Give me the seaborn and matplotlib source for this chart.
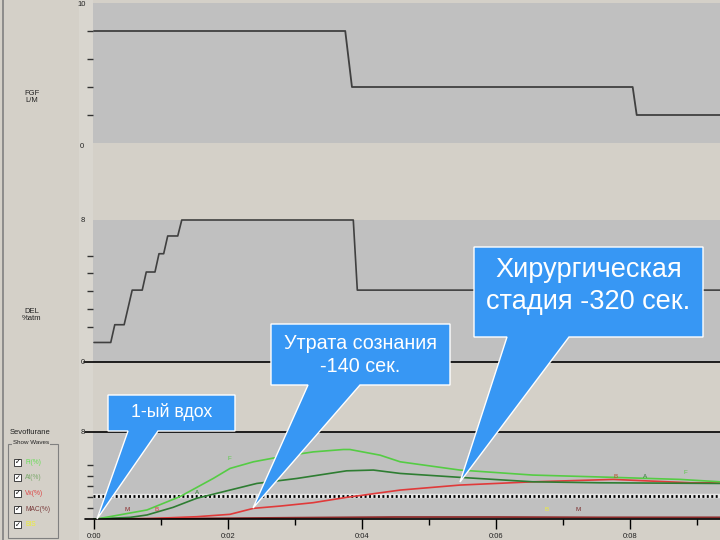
import matplotlib
matplotlib.use("Agg")
import matplotlib.pyplot as plt
import seaborn as sns
from matplotlib.patches import Polygon, Rectangle
from matplotlib.transforms import Affine2D
from matplotlib.lines import Line2D

sns.set_style("white")
plt.rcParams['font.family'] = ['Liberation Sans', 'DejaVu Sans']

# ---------------- data (time in minutes) ----------------
fgf_t = [0.0, 3.75, 3.85, 8.04, 8.10, 9.35]
fgf_v = [8, 8, 4, 4, 2, 2]

del_t = [0.0, 0.25, 0.31, 0.45, 0.57, 0.72, 0.78, 0.91, 0.97, 1.04, 1.10, 1.25, 1.31, 3.87, 3.93, 9.35]
del_v = [1.1, 1.1, 2.1, 2.1, 4.05, 4.05, 5.07, 5.07, 6.1, 6.1, 7.1, 7.1, 8.0, 8.0, 4.05, 4.05]

fi_t = [0.0, 0.04, 0.79, 1.28, 1.78, 2.03, 2.38, 2.78, 3.27, 3.72, 3.82, 4.27, 4.57, 5.46, 6.55, 7.75, 8.75, 9.35]
fi_v = [0.0, 0.0, 0.83, 2.05, 3.73, 4.65, 5.26, 5.72, 6.17, 6.39, 6.39, 5.87, 5.26, 4.5, 4.04, 3.83, 3.64, 3.42]

et_t = [0.0, 0.54, 0.79, 1.18, 1.53, 2.03, 2.43, 3.03, 3.77, 4.17, 4.57, 5.46, 6.55, 7.55, 9.35]
et_v = [0.0, 0.15, 0.37, 1.07, 1.9, 2.66, 3.27, 3.73, 4.43, 4.5, 4.19, 3.83, 3.42, 3.33, 3.27]

vs_t = [0.0, 0.79, 1.53, 2.03, 2.38, 2.78, 3.27, 3.77, 4.57, 5.46, 6.55, 7.75, 8.9, 9.35]
vs_v = [0.0, 0.03, 0.21, 0.43, 0.98, 1.19, 1.5, 1.99, 2.66, 3.12, 3.42, 3.64, 3.33, 3.33]

mac_t = [0.0, 1.5, 3.0, 4.5, 6.0, 7.5, 9.35]
mac_v = [0.0, 0.05, 0.12, 0.18, 0.18, 0.15, 0.15]

mac_ref = 2.1

xtick_pos = [0, 2, 4, 6, 8]
xtick_lab = ["0:00", "0:02", "0:04", "0:06", "0:08"]
legend_labels = ["Fi(%)", "At(%)", "Vx(%)", "MAC(%)", "BIS"]
legend_colors = ["#66dd55", "#7aa86a", "#dd4444", "#7a3b3b", "#eeee33"]

callouts = [
    ("1-ый вдох", 12.8, 1.2),
    ("Утрата сознания\n-140 сек.", 14.2, 1.3),
    ("Хирургическая\nстадия -320 сек.", 19.5, 1.3),
]

# ---------------- figure ----------------
W, H = 720, 540
BG = "#d4d0c8"
PANEL = "#c0c0c0"
fig = plt.figure(figsize=(7.2, 5.4), dpi=100, facecolor=BG)
pix = Affine2D().scale(1 / W, -1 / H).translate(0, 1) + fig.transFigure

# decorations of the left strip
fig.add_artist(Rectangle((79, 0), 14, H, transform=pix, facecolor="#d9d6cf", edgecolor="none", zorder=0))
fig.add_artist(Line2D([2.5, 2.5], [0, H], transform=pix, color="#808080", lw=1.2))

T0, T1 = (93 - 94) / 67, (720 - 94) / 67


def px_axes(x0, y0, x1, y1):
    return fig.add_axes([x0 / W, 1 - y1 / H, (x1 - x0) / W, (y1 - y0) / H])


def style(ax, ymax, yticks):
    ax.set_facecolor(PANEL)
    ax.set_xlim(T0, T1)
    ax.set_ylim(0, ymax)
    for s in ax.spines.values():
        s.set_visible(False)
    ax.set_yticks(yticks)
    ax.tick_params(axis="y", which="both", left=True, direction="out", length=4.5, width=1,
                   color="#333333", labelleft=False)
    ax.tick_params(axis="x", bottom=False, labelbottom=False)
    ax.set_xlabel("")
    ax.set_ylabel("")


# Panel 1: FGF
ax1 = px_axes(93, 3, 720, 143)
style(ax1, 10, [2, 4, 6, 8])
sns.lineplot(x=fgf_t, y=fgf_v, ax=ax1, color="#404040", lw=1.3, sort=False, estimator=None)

# Panel 2: DEL
ax2 = px_axes(93, 220, 720, 362)
style(ax2, 8, [2, 3, 4, 5, 6])
sns.lineplot(x=del_t, y=del_v, ax=ax2, color="#404040", lw=1.2, sort=False, estimator=None)
for l in ax2.lines:
    l.set_clip_on(False)
ax2.plot([-0.015, 1], [0, 0], transform=ax2.transAxes, color="black", lw=1.2, clip_on=False)

# Panel 3: Sevoflurane
ax3 = px_axes(93, 432, 720, 519)
style(ax3, 8, [1, 2, 3, 4, 5])
ax3.axhline(mac_ref, color="#e6e6e6", lw=3.2, zorder=1)
ax3.axhline(mac_ref, color="black", lw=2.0, dashes=(0.7, 0.9), zorder=1.5)
sns.lineplot(x=mac_t, y=mac_v, ax=ax3, color="#8b2a2a", lw=1.3, sort=False, estimator=None)
sns.lineplot(x=vs_t, y=vs_v, ax=ax3, color="#e03a3a", lw=1.2, sort=False, estimator=None)
sns.lineplot(x=et_t, y=et_v, ax=ax3, color="#2e7d32", lw=1.2, sort=False, estimator=None)
sns.lineplot(x=fi_t, y=fi_v, ax=ax3, color="#55cc44", lw=1.2, sort=False, estimator=None)
ax3.plot([-0.013, 1], [1, 1], transform=ax3.transAxes, color="black", lw=1.2, clip_on=False)
ax3.plot([-0.013, 1], [0, 0], transform=ax3.transAxes, color="black", lw=1.2, clip_on=False)
ax3.set_xticks(xtick_pos)
ax3.set_xticklabels(xtick_lab)
ax3.set_xticks([1, 3, 5, 7, 9], minor=True)
ax3.tick_params(axis="x", which="major", bottom=True, labelbottom=True, direction="out",
                length=7, width=1, color="black", labelsize=5.5, pad=3, labelcolor="#222222")
ax3.tick_params(axis="x", which="minor", bottom=True, direction="out", length=4, width=1, color="black")

# tiny series letters
small = dict(fontsize=4.5, ha="center", va="center")
ax3.text(2.02, 5.6, "F", color="#55cc44", **small)
ax3.text(1.54, 2.4, "A", color="#2e7d32", **small)
ax3.text(0.49, 0.9, "M", color="#8b2a2a", **small)
ax3.text(0.94, 0.9, "B", color="#e03a3a", **small)
ax3.text(7.78, 3.9, "B", color="#b84a2a", **small)
ax3.text(8.22, 3.9, "A", color="#2e7d32", **small)
ax3.text(8.82, 4.3, "F", color="#55cc44", **small)
ax3.text(6.76, 0.85, "B", color="#eeee33", **small)
ax3.text(7.22, 0.85, "M", color="#7a2a2a", **small)

# axis end labels
lab = dict(fontsize=5.5, color="#222222", ha="center", va="center", transform=pix)
fig.text(82, 4, "10", **lab)
fig.text(82, 146, "0", **lab)
fig.text(83, 221, "8", **lab)
fig.text(83, 362, "0", **lab)
fig.text(83, 432, "8", **lab)
fig.text(32, 97, "FGF\nL/M", fontsize=5.5, color="#222222", ha="center", va="center",
         transform=pix, linespacing=1.1)
fig.text(32, 315, "DEL\n%atm", fontsize=5.5, color="#222222", ha="center", va="center",
         transform=pix, linespacing=1.1)
fig.text(10, 432, "Sevoflurane", fontsize=5.5, color="#222222", ha="left", va="center", transform=pix)

# legend group box
fig.add_artist(Rectangle((8, 444), 50, 94, transform=pix, facecolor="none", edgecolor="#808080", lw=0.8))
fig.add_artist(Rectangle((12, 440), 38, 7, transform=pix, facecolor=BG, edgecolor="none"))
fig.text(13, 443, "Show Waves", fontsize=4.5, color="#222222", ha="left", va="center", transform=pix)
for i, (name, col) in enumerate(zip(legend_labels, legend_colors)):
    yy = 462 + i * 15.7
    fig.add_artist(Rectangle((14, yy - 3.5), 7, 7, transform=pix, facecolor="white", edgecolor="#404040", lw=0.7))
    fig.text(17.5, yy, "✓", fontsize=5, color="black", ha="center", va="center", transform=pix,
             family=["DejaVu Sans"])
    fig.text(25, yy, name, fontsize=4.8, color=col, ha="left", va="center", transform=pix)

# callouts: (box x0, y0, x1, y1, wedge base left, wedge base right, tip x, tip y, text centre y)
BLUE = "#3797f4"
geo = [
    (108, 395, 235, 431, 128, 158, 97, 519, 412),
    (271, 324, 450, 385, 308, 360, 253, 508, 355),
    (474, 247, 703, 337, 507, 569, 460, 482, 286),
]
for (x0, y0, x1, y1, b0, b1, tx, ty, cy), (txt, fs, ls) in zip(geo, callouts):
    verts = [(x0, y0), (x1, y0), (x1, y1), (b1, y1), (tx, ty), (b0, y1), (x0, y1)]
    fig.add_artist(Polygon(verts, closed=True, transform=pix, facecolor=BLUE, edgecolor="white",
                           lw=1.0, zorder=20))
    fig.text((x0 + x1) / 2, cy, txt, fontsize=fs, color="white", ha="center", va="center",
             transform=pix, zorder=21, linespacing=ls)

fig.savefig("out.png", dpi=100, facecolor=BG)
